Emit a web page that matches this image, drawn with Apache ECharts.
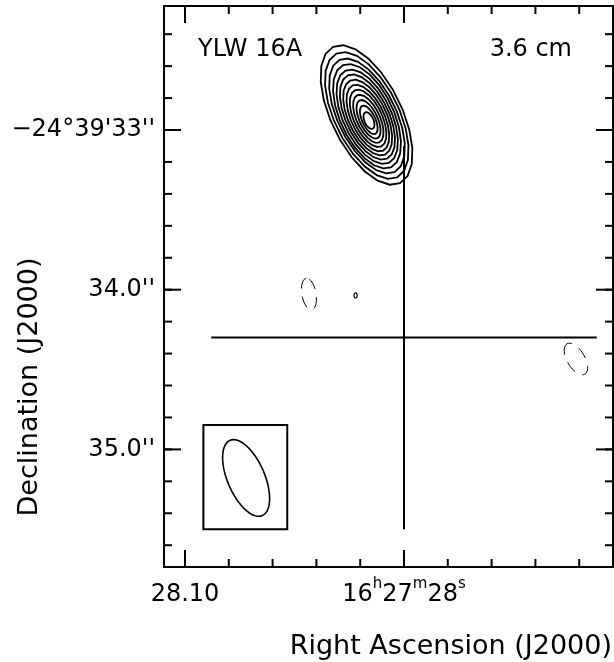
<!DOCTYPE html>
<html>
<head>
<meta charset="utf-8">
<script src="https://cdn.jsdelivr.net/npm/echarts@6.0.0/dist/echarts.min.js"></script>
<style>
  html, body { margin: 0; padding: 0; background: #fff; }
  #chart { width: 614px; height: 662px; }
</style>
</head>
<body>
<div id="chart"></div>
<script>
// YLW 16A, VLA 3.6 cm map.
// x: RA seconds after 16h27m ; y: Dec arcsec after -24°39' (grows southward)
const FONT = 'DejaVu Sans';
const DEC_DEG = 24 + 39 / 60 + 34 / 3600;
const SEC_PER_ARCSEC = 1 / (15 * Math.cos(DEC_DEG * Math.PI / 180));

const raRange = [27.90457, 28.10959];
const decRange = [32.22355, 35.73638];

const raMajorTicks = [28.10, 28.00];
const raMinorTicks = [28.10, 28.08, 28.06, 28.04, 28.02, 28.00, 27.98, 27.96, 27.94, 27.92];
const raTickLabels = ['28.10', '16h27m28s'];
const decMajorTicks = [33, 34, 35];
const decMinorTicks = [32.4, 32.6, 32.8, 33.0, 33.2, 33.4, 33.6, 33.8, 34.0, 34.2,
                       34.4, 34.6, 34.8, 35.0, 35.2, 35.4, 35.6];
const decTickLabels = ['\u221224\u00b039\'33\'\'', '34.0\'\'', '35.0\'\''];

// positive contours, outermost first: centre, semi-axes (arcsec), position angle (deg)
const contourRA  = [28.0171, 28.0170, 28.0169, 28.0169, 28.0168, 28.0167, 28.0166,
                    28.0165, 28.0164, 28.0163, 28.0162, 28.0161, 28.0160];
const contourDec = [32.906, 32.909, 32.912, 32.914, 32.917, 32.919, 32.922,
                    32.925, 32.927, 32.930, 32.933, 32.937, 32.941];
const contourMaj = [0.475, 0.431, 0.391, 0.353, 0.319, 0.288, 0.256,
                    0.225, 0.194, 0.163, 0.131, 0.097, 0.056];
const contourMin = [0.219, 0.200, 0.181, 0.166, 0.150, 0.134, 0.119,
                    0.103, 0.088, 0.072, 0.056, 0.041, 0.028];
const contourPA  = [26, 26, 26, 25, 25, 25, 25, 25, 25, 25, 25, 25, 24];

// faint features near the noise level (sign -1: negative, dashed)
const noiseRA   = [28.0434, 27.9215, 28.0221];
const noiseDec  = [34.027, 34.434, 34.036];
const noiseMaj  = [0.100, 0.110, 0.016];
const noiseMin  = [0.044, 0.055, 0.010];
const noisePA   = [10, 30, 0];
const noiseSign = [-1, -1, 1];

// reference position with its +/- 1.2 arcsec cross
const crossRA = [28.000];
const crossDec = [34.30];
const crossHalf = [1.2];

// synthesized beam and its box
const beamRA = [28.0721];
const beamDec = [35.179];
const beamMaj = [0.256];
const beamMin = [0.116];
const beamPA = [23];
const beamBoxRA = [28.0916, 28.0533];
const beamBoxDec = [34.847, 35.500];

function ellipsePoints(api, ra0, dec0, a, b, paDeg, n) {
  const pa = paDeg * Math.PI / 180;
  const pts = [];
  for (let k = 0; k < n; k++) {
    const t = 2 * Math.PI * k / n;
    const u = a * Math.cos(t), w = b * Math.sin(t);
    const dN = u * Math.cos(pa) - w * Math.sin(pa);
    const dE = u * Math.sin(pa) + w * Math.cos(pa);
    pts.push(api.coord([ra0 + dE * SEC_PER_ARCSEC, dec0 - dN]));
  }
  return pts;
}

function ellipseRenderer(nPts, width, dashFor) {
  return function (params, api) {
    const pts = ellipsePoints(api, api.value(0), api.value(1), api.value(2),
                              api.value(3), api.value(4), nPts);
    const sign = api.value(5);
    return {
      type: 'polygon',
      shape: { points: pts },
      style: {
        fill: 'none', stroke: '#000', lineWidth: sign < 0 ? 1 : width,
        lineDash: sign < 0 ? dashFor : null
      }
    };
  };
}

const contourData = contourRA.map((r, i) =>
  [r, contourDec[i], contourMaj[i], contourMin[i], contourPA[i], 1]);
const noiseData = noiseRA.map((r, i) =>
  [r, noiseDec[i], noiseMaj[i], noiseMin[i], noisePA[i], noiseSign[i]]);
const beamData = beamRA.map((r, i) =>
  [r, beamDec[i], beamMaj[i], beamMin[i], beamPA[i], 1]);

const tickData = [
  ...raMinorTicks.map(v => [v, 0, 8]),
  ...raMajorTicks.map(v => [v, 0, 17]),
  ...decMinorTicks.map(v => [v, 1, 8]),
  ...decMajorTicks.map(v => [v, 1, 17])
];

const sup = s => s.replace(/([a-z])/g, '}{s|$1}{n|');
const richLabel = s => ('{n|' + sup(s) + '}').replace(/\{n\|\}/g, '');

function nearestIndex(arr, v) {
  let best = 0;
  arr.forEach((a, i) => { if (Math.abs(a - v) < Math.abs(arr[best] - v)) best = i; });
  return best;
}

const chart = echarts.init(document.getElementById('chart'), null, { renderer: 'canvas' });

chart.setOption({
  animation: false,
  backgroundColor: '#fff',
  grid: { left: 164, right: 1, top: 6, bottom: 95, show: true,
          borderColor: '#000', borderWidth: 2, backgroundColor: 'transparent' },
  xAxis: {
    type: 'value', min: raRange[0], max: raRange[1], inverse: true,
    axisLine: { show: false }, axisTick: { show: false }, splitLine: { show: false },
    axisLabel: {
      customValues: raMajorTicks, margin: 10,
      formatter: v => richLabel(raTickLabels[nearestIndex(raMajorTicks, v)]),
      rich: {
        n: { fontFamily: FONT, fontSize: 24, color: '#000', lineHeight: 30, verticalAlign: 'bottom' },
        s: { fontFamily: FONT, fontSize: 15, color: '#000', lineHeight: 15, verticalAlign: 'top' }
      }
    }
  },
  yAxis: {
    type: 'value', min: decRange[0], max: decRange[1], inverse: true,
    axisLine: { show: false }, axisTick: { show: false }, splitLine: { show: false },
    axisLabel: {
      customValues: decMajorTicks, margin: 9,
      fontFamily: FONT, fontSize: 24, color: '#000',
      formatter: v => decTickLabels[nearestIndex(decMajorTicks, v)]
    }
  },
  series: [
    {
      type: 'custom', name: 'ticks', silent: true, data: tickData,
      encode: { x: -1, y: -1 },
      renderItem: function (params, api) {
        const cs = params.coordSys;
        const v = api.value(0), dim = api.value(1), len = api.value(2);
        const st = { stroke: '#000', lineWidth: 2 };
        if (dim === 0) {
          const x = api.coord([v, decRange[0]])[0];
          const yb = cs.y + cs.height, yt = cs.y;
          return { type: 'group', children: [
            { type: 'line', shape: { x1: x, y1: yb, x2: x, y2: yb - len }, style: st },
            { type: 'line', shape: { x1: x, y1: yt, x2: x, y2: yt + len }, style: st }
          ] };
        }
        const y = api.coord([raRange[0], v])[1];
        const xl = cs.x, xr = cs.x + cs.width;
        return { type: 'group', children: [
          { type: 'line', shape: { x1: xl, y1: y, x2: xl + len, y2: y }, style: st },
          { type: 'line', shape: { x1: xr, y1: y, x2: xr - len, y2: y }, style: st }
        ] };
      }
    },
    {
      type: 'custom', name: 'contours', silent: true, data: contourData,
      renderItem: ellipseRenderer(22, 1.8, null)
    },
    {
      type: 'custom', name: 'faint', silent: true, data: noiseData,
      renderItem: ellipseRenderer(40, 1.2, [12, 8])
    },
    {
      type: 'custom', name: 'cross', silent: true,
      data: crossRA.map((r, i) => [r, crossDec[i], crossHalf[i]]),
      renderItem: function (params, api) {
        const ra = api.value(0), dec = api.value(1), h = api.value(2);
        const l = api.coord([ra + h * SEC_PER_ARCSEC, dec]);
        const r = api.coord([ra - h * SEC_PER_ARCSEC, dec]);
        const t = api.coord([ra, dec - h]);
        const b = api.coord([ra, dec + h]);
        const st = { stroke: '#000', lineWidth: 2 };
        return { type: 'group', children: [
          { type: 'line', shape: { x1: l[0], y1: l[1], x2: r[0], y2: r[1] }, style: st },
          { type: 'line', shape: { x1: t[0], y1: t[1], x2: b[0], y2: b[1] }, style: st }
        ] };
      }
    },
    {
      type: 'custom', name: 'beam box', silent: true,
      data: [[beamBoxRA[0], beamBoxDec[0], beamBoxRA[1], beamBoxDec[1]]],
      renderItem: function (params, api) {
        const p0 = api.coord([api.value(0), api.value(1)]);
        const p1 = api.coord([api.value(2), api.value(3)]);
        return { type: 'rect',
          shape: { x: Math.min(p0[0], p1[0]), y: Math.min(p0[1], p1[1]),
                   width: Math.abs(p1[0] - p0[0]), height: Math.abs(p1[1] - p0[1]) },
          style: { fill: 'none', stroke: '#000', lineWidth: 2 } };
      }
    },
    {
      type: 'custom', name: 'beam', silent: true, data: beamData,
      renderItem: ellipseRenderer(72, 1.6, null)
    }
  ],
  graphic: [
    { type: 'text', x: 198, y: 50, silent: true,
      style: { text: 'YLW 16A', font: '24px "DejaVu Sans"', fill: '#000',
               align: 'left', verticalAlign: 'middle' } },
    { type: 'text', x: 572, y: 50, silent: true,
      style: { text: '3.6 cm', font: '24px "DejaVu Sans"', fill: '#000',
               align: 'right', verticalAlign: 'middle' } },
    { type: 'text', x: 612, y: 647, silent: true,
      style: { text: 'Right Ascension (J2000)', font: '27px "DejaVu Sans"', fill: '#000',
               align: 'right', verticalAlign: 'middle' } },
    { type: 'text', x: 30, y: 387, rotation: Math.PI / 2, silent: true,
      style: { text: 'Declination (J2000)', font: '27px "DejaVu Sans"', fill: '#000',
               align: 'center', verticalAlign: 'middle' } }
  ]
});
</script>
</body>
</html>
